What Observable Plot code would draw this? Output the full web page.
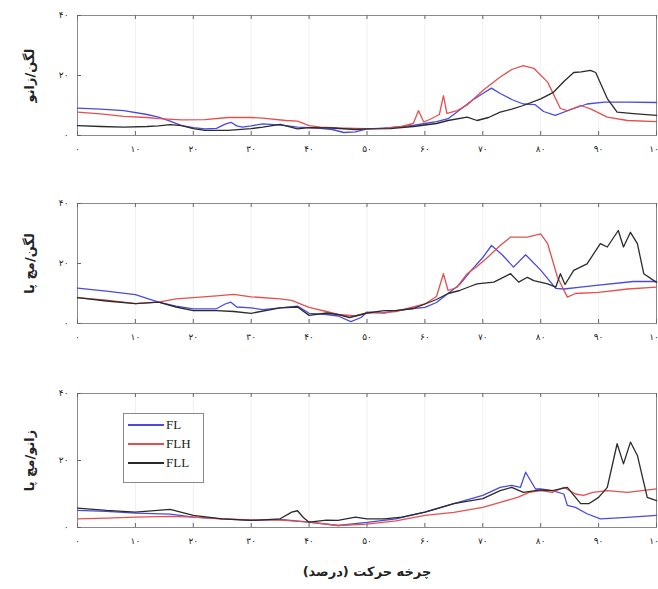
<!DOCTYPE html>
<html>
<head>
<meta charset="utf-8">
<script src="https://cdn.jsdelivr.net/npm/d3@7"></script>
<script src="https://cdn.jsdelivr.net/npm/@observablehq/plot@0.6"></script>
<style>
  body { margin: 0; background: #fff; }
  #wrap { position: relative; width: 658px; height: 589px; }
  #wrap svg { display: block; }
  #legend { position: absolute; left: 123px; top: 413px; width: 79px; height: 68px;
    border: 1px solid #888; background: #fff; font-family: "Liberation Serif", serif; font-size: 13px; color: #222; }
  .row { position: absolute; left: 4px; height: 16px; display: flex; align-items: center; }
  .row span.ln { display: inline-block; width: 36px; height: 2px; margin-right: 2px; }
</style>
</head>
<body>
<div id="wrap"></div>
<script>
// ---- labels / ticks ----
const seriesNames = ["FL", "FLH", "FLL"];
const seriesColors = ["#4a4ae0", "#e5504f", "#2b2b2b"];
const xTicks = [0, 10, 20, 30, 40, 50, 60, 70, 80, 90, 100];
const yTicks = [0, 20, 40];
const panelLabels = ["لگن/زانو", "لگن/مچ پا", "زانو/مچ پا"];
const xLabel = "چرخه حرکت (درصد)";

// ---- panel 1: hip / knee ----
const FL1 = [[0,9.1],[4,8.8],[8,8.3],[12,7],[14,6.1],[16,4.8],[18,3.3],[20,2.6],[22,2.2],[24,2.4],[25.5,3.8],[26.5,4.4],[27.5,3.2],[28.5,2.8],[30,3.2],[32,3.9],[34,3.6],[36,3.3],[38,2.8],[40,2.6],[42,2.4],[44,2],[46,1],[48,1.2],[50,2.2],[52,2.4],[54,2.6],[56,3],[58,3.4],[60,4],[62,4.6],[64,5.6],[66,8.5],[68,11.5],[70,14],[71.5,15.8],[73,14],[75,12],[77,10.5],[79,10.3],[80.5,8],[82.5,6.7],[85,8.5],[88,10.5],[91,11.1],[95,11.1],[100,11]];
const FLH1 = [[0,7.8],[4,7.2],[8,6.4],[12,6],[14,5.6],[18,5.2],[22,5.3],[26,6],[30,6],[32,5.8],[36,5],[38,4.8],[40,3.3],[42,2.8],[45,2.5],[48,2.4],[50,2.3],[53,2.4],[56,3],[58,4],[58.9,8.3],[59.8,4.5],[61,5.5],[62.5,7],[63.2,13.3],[63.8,7.4],[65.6,8.3],[67.3,10.2],[70,15],[73,19.5],[75,22],[77,23.3],[78.8,22.4],[81.2,17.8],[83.4,9],[84.6,8.3],[86.9,10],[88.6,8.9],[91.5,6.1],[95,5],[100,4.6]];
const FLL1 = [[0,3.3],[4,3],[8,2.8],[12,3],[14,3.2],[16,3.6],[18,3.3],[20,2.3],[22,1.7],[26,1.7],[30,2.3],[32,2.8],[35,3.7],[38,2.2],[40,2.6],[44,2.5],[48,2],[50,2.2],[54,2.3],[58,3],[60,3.5],[62,4],[64,5],[67.3,6.1],[69,5],[71,6],[73,7.8],[75,8.8],[77,10],[80,12.2],[82.2,14.4],[84,18],[85.7,21],[87,21.2],[88.6,21.7],[89.5,21],[91.5,12.3],[93.2,7.8],[96,7.3],[100,6.7]];

// ---- panel 2: hip / ankle ----
const FL2 = [[0,11.8],[5,10.8],[10,9.6],[14,7.1],[17,5.8],[20,4.9],[24,4.9],[25.5,6.5],[26.5,7.1],[27.5,5.5],[30,5.2],[32,4.6],[35,5.2],[38,5.8],[40,3.4],[43,3],[45,2.5],[47.2,0.6],[49,2],[50,3.8],[53,3.5],[55,4.3],[58,5],[60,5.4],[62,7],[64,10],[66,13],[68,17.7],[70,22],[71.5,26],[73.3,23],[75.3,18.8],[77.4,22.9],[80,17.8],[82.6,11.7],[84,11.5],[86.9,12.1],[90,12.8],[96,14],[100,14]];
const FLH2 = [[0,8.6],[5,7.8],[10,6.6],[14,7.1],[17,8.2],[20,8.6],[24,9.2],[27,9.7],[30,8.9],[35,8.2],[37,7.7],[40,5.4],[43,4],[45,3],[48,2.5],[50,3.5],[53,3.7],[55,4],[58,5.5],[60,6.5],[62,9],[63.2,16.6],[64,11],[65.5,12],[67.3,16.6],[69,19],[70.8,22],[73,26],[74.8,28.8],[77.7,28.8],[80,29.9],[81.2,26.6],[82.9,15.4],[84.6,8.8],[86,10],[90,10.4],[95,11.5],[100,12.1]];
const FLL2 = [[0,8.6],[5,7.5],[10,6.6],[14,7.1],[17,5.5],[20,4.3],[24,4.3],[27,4],[30,3.4],[35,5.2],[38,5.5],[40,2.7],[43,3.5],[45,3],[47,2],[50,3.5],[53,4.3],[55,4.3],[58,5],[60,6.5],[62,8],[64,10],[66,11],[68,12.5],[69,13.2],[71.9,13.8],[74.8,16.6],[76.2,13.8],[77.7,15.4],[78.8,14.3],[81.2,13.2],[82.6,12.1],[83.4,16.6],[84.2,13],[85.7,17.7],[88,19.9],[90.3,26.6],[91.5,25.5],[93.4,31],[94.3,25.5],[95.5,30.4],[96.7,26.6],[97.8,16.6],[100,13.7]];

// ---- panel 3: knee / ankle ----
const FL3 = [[0,5.1],[5,4.8],[10,4.3],[16,4],[20,3.1],[25,2.6],[30,2.1],[35,2.4],[40,1.6],[45,0.6],[50,1.5],[55,2.6],[60,4.6],[65,7.1],[70,9.6],[73,12],[75,12.6],[76.5,12],[77.4,16.5],[79.1,11.5],[80,11.5],[82,11],[84,10],[84.6,6.6],[86,6],[88,4.1],[90.3,2.6],[95,3],[100,3.6]];
const FLH3 = [[0,2.6],[5,2.8],[10,3.1],[16,3.3],[20,3.1],[25,2.6],[30,2.3],[35,2.2],[40,1.6],[45,0.6],[50,1],[55,2],[60,3.6],[65,4.5],[70,6],[73,7.5],[76,9],[78,10.5],[80,11],[82,10.5],[84,12],[86,10],[87.4,9.6],[89,10.5],[91.5,11],[95,10.5],[100,11.5]];
const FLL3 = [[0,5.8],[5,5.1],[10,4.6],[16,5.4],[20,3.6],[25,2.6],[30,2.1],[35,2.6],[37,4.6],[38,5],[39,3],[40,1.6],[43,2.2],[45,2.1],[48,3.1],[50,2.6],[53,2.6],[56,3.1],[60,4.6],[65,7.1],[70,8.6],[73,11],[75,12],[77,10.5],[80,11.2],[82,11],[84.6,12],[86.9,7.1],[88.3,7.1],[90,9],[91.5,12],[93.2,25],[94.3,19],[95.5,25.5],[96.7,21.5],[98.4,9],[100,8]];

const panels = [
  {label: panelLabels[0], series: [FL1, FLH1, FLL1], height: 180, mt: 15, mb: 45, xl: false},
  {label: panelLabels[1], series: [FL2, FLH2, FLL2], height: 185, mt: 23, mb: 42, xl: false},
  {label: panelLabels[2], series: [FL3, FLH3, FLL3], height: 224, mt: 28, mb: 62, xl: true}
];

const faDigits = "۰۱۲۳۴۵۶۷۸۹";
const fa = d => String(d).replace(/\d/g, c => faDigits[+c]);

const wrap = document.getElementById("wrap");
for (const p of panels) {
  const rows = p.series.flatMap((arr, i) => arr.map(([x, v]) => ({x, v, s: seriesNames[i]})));
  const ph = p.height - p.mt - p.mb;
  const pw = 658 - 77 - 2;
  const marks = [
    Plot.gridX(xTicks, {stroke: "#000", strokeOpacity: 0.06}),
    Plot.frame({stroke: "#8a8a8a", strokeWidth: 1}),
    Plot.tickX(xTicks, {x: d => d, insetTop: ph - 4, stroke: "#666"}),
    Plot.tickX(xTicks, {x: d => d, insetBottom: ph - 4, stroke: "#666"}),
    Plot.tickY(yTicks, {y: d => d, insetRight: pw - 4, stroke: "#666"}),
    Plot.line(rows, {x: "x", y: "v", z: "s", stroke: "s", strokeWidth: 1.3, curve: "linear"}),
    Plot.text([p.label], {text: d => d, frameAnchor: "left", dx: -48, rotate: -90,
      textAnchor: "middle", lineAnchor: "middle",
      fontSize: 13, fontWeight: "bold", fill: "#222"})
  ];
  if (p.xl) {
    marks.push(Plot.text([xLabel], {text: d => d, frameAnchor: "bottom", dy: 48,
      fontSize: 13, fontWeight: "bold", fill: "#222"}));
  }
  const chart = Plot.plot({
    width: 658, height: p.height,
    marginTop: p.mt, marginBottom: p.mb, marginLeft: 77, marginRight: 2,
    style: {fontFamily: "DejaVu Sans", fontSize: "9px", color: "#222", background: "#fff"},
    x: {domain: [0, 100], ticks: xTicks, tickFormat: fa, tickSize: 0, tickPadding: 10, label: null},
    y: {domain: [0, 40], ticks: yTicks, tickFormat: fa, tickSize: 0, tickPadding: 9, label: null},
    color: {domain: seriesNames, range: seriesColors},
    marks
  });
  wrap.appendChild(chart);
}

// legend
const leg = document.createElement("div");
leg.id = "legend";
seriesNames.forEach((n, i) => {
  const r = document.createElement("div");
  r.className = "row";
  r.style.top = (11 + i * 19 - 8) + "px";
  r.innerHTML = `<span class="ln" style="background:${seriesColors[i]}"></span><span>${n}</span>`;
  leg.appendChild(r);
});
wrap.appendChild(leg);
</script>
</body>
</html>
